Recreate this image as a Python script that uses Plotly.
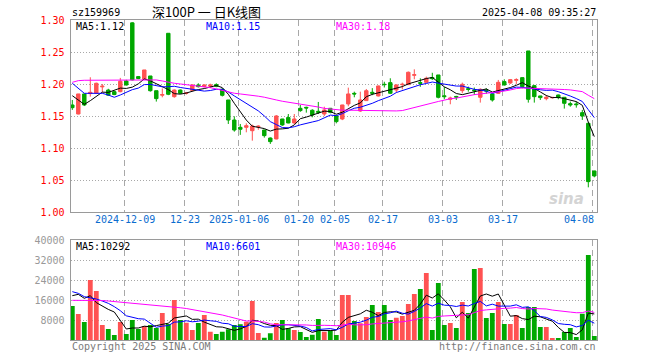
import plotly.graph_objects as go
import pandas as pd

# ---------------- data ----------------
dates = [
    "2024-11-26", "2024-11-27", "2024-11-28", "2024-11-29",
    "2024-12-02", "2024-12-03", "2024-12-04", "2024-12-05", "2024-12-06",
    "2024-12-09", "2024-12-10", "2024-12-11", "2024-12-12", "2024-12-13",
    "2024-12-16", "2024-12-17", "2024-12-18", "2024-12-19", "2024-12-20",
    "2024-12-23", "2024-12-24", "2024-12-25", "2024-12-26", "2024-12-27",
    "2024-12-30", "2024-12-31",
    "2025-01-02", "2025-01-03",
    "2025-01-06", "2025-01-07", "2025-01-08", "2025-01-09", "2025-01-10",
    "2025-01-13", "2025-01-14", "2025-01-15", "2025-01-16", "2025-01-17",
    "2025-01-20", "2025-01-21", "2025-01-22", "2025-01-23", "2025-01-24",
    "2025-01-27",
    "2025-02-05", "2025-02-06", "2025-02-07",
    "2025-02-10", "2025-02-11", "2025-02-12", "2025-02-13", "2025-02-14",
    "2025-02-17", "2025-02-18", "2025-02-19", "2025-02-20", "2025-02-21",
    "2025-02-24", "2025-02-25", "2025-02-26", "2025-02-27", "2025-02-28",
    "2025-03-03", "2025-03-04", "2025-03-05", "2025-03-06", "2025-03-07",
    "2025-03-10", "2025-03-11", "2025-03-12", "2025-03-13", "2025-03-14",
    "2025-03-17", "2025-03-18", "2025-03-19", "2025-03-20", "2025-03-21",
    "2025-03-24", "2025-03-25", "2025-03-26", "2025-03-27", "2025-03-28",
    "2025-03-31",
    "2025-04-01", "2025-04-02", "2025-04-03",
    "2025-04-07", "2025-04-08",
]

opens = [
    1.1677, 1.1536, 1.1849, 1.1855, 1.1860, 1.1960, 1.1910, 1.1885, 1.1885, 1.2050,
    1.2960, 1.2120, 1.2078, 1.2130, 1.1900, 1.1830, 1.2797, 1.1807, 1.1910, 1.1860,
    1.1905, 1.1989, 1.1965, 1.1970, 1.1995, 1.1922, 1.1755, 1.1442, 1.1328, 1.1328,
    1.1275, 1.1335, 1.1286, 1.1161, 1.1146, 1.1458, 1.1480, 1.1396, 1.1625, 1.1640,
    1.1594, 1.1578, 1.1536, 1.1625, 1.1505, 1.1458, 1.1693, 1.1859, 1.1583, 1.1745,
    1.1875, 1.1818, 1.2000, 1.2026, 1.1911, 1.1995, 1.1995, 1.2141, 1.2026, 1.2031,
    1.2104, 1.2146, 1.1820, 1.1766, 1.1810, 1.1901, 1.1932, 1.1911, 1.1797, 1.1910,
    1.1849, 1.1859, 1.2042, 1.2021, 1.2062, 1.2104, 1.2521, 1.1979, 1.1818, 1.1776,
    1.1790, 1.1833, 1.1797, 1.1698, 1.1693, 1.1557, 1.1391, 1.0646,
]
highs = [
    1.1755, 1.1850, 1.1850, 1.2110, 1.2026, 1.2005, 1.1930, 1.1900, 1.2100, 1.2070,
    1.2970, 1.2130, 1.2224, 1.2130, 1.1900, 1.1935, 1.2800, 1.1920, 1.1920, 1.1880,
    1.2000, 1.2016, 1.2000, 1.2010, 1.2016, 1.1940, 1.1755, 1.1500, 1.1380, 1.1390,
    1.1370, 1.1360, 1.1290, 1.1170, 1.1520, 1.1460, 1.1536, 1.1536, 1.1677, 1.1650,
    1.1610, 1.1724, 1.1650, 1.1630, 1.1510, 1.1680, 1.1948, 1.1885, 1.1885, 1.1927,
    1.1940, 1.1980, 1.2040, 1.2094, 1.2000, 1.2026, 1.2200, 1.2234, 1.2094, 1.2120,
    1.2180, 1.2146, 1.1960, 1.1807, 1.1820, 1.2026, 1.1964, 1.1950, 1.1937, 1.1937,
    1.1850, 1.2068, 1.2078, 1.2083, 1.2094, 1.2110, 1.2521, 1.1990, 1.1820, 1.1833,
    1.1800, 1.1840, 1.1800, 1.1730, 1.1730, 1.1600, 1.1400, 1.0650,
]
lows = [
    1.1600, 1.1530, 1.1660, 1.1807, 1.1850, 1.1870, 1.1820, 1.1830, 1.1875, 1.1980,
    1.2060, 1.2080, 1.2070, 1.1885, 1.1730, 1.1797, 1.1830, 1.1790, 1.1850, 1.1840,
    1.1900, 1.1950, 1.1950, 1.1940, 1.1955, 1.1810, 1.1380, 1.1260, 1.1210, 1.1250,
    1.1119, 1.1290, 1.1167, 1.1068, 1.1140, 1.1350, 1.1390, 1.1380, 1.1570, 1.1557,
    1.1484, 1.1536, 1.1505, 1.1547, 1.1390, 1.1440, 1.1656, 1.1797, 1.1570, 1.1740,
    1.1830, 1.1810, 1.1950, 1.1850, 1.1870, 1.1920, 1.1990, 1.2078, 1.1960, 1.2026,
    1.2068, 1.1780, 1.1766, 1.1688, 1.1755, 1.1860, 1.1885, 1.1833, 1.1714, 1.1850,
    1.1730, 1.1850, 1.1980, 1.2005, 1.2005, 1.1937, 1.1714, 1.1714, 1.1755, 1.1750,
    1.1780, 1.1766, 1.1620, 1.1650, 1.1635, 1.1443, 1.0390, 1.0547,
]
closes = [
    1.1635, 1.1849, 1.1677, 1.1875, 1.2016, 1.1970, 1.1830, 1.1840, 1.2047, 1.1990,
    1.2070, 1.2090, 1.2224, 1.1900, 1.1776, 1.1840, 1.1844, 1.1910, 1.1860, 1.1865,
    1.1990, 1.1963, 1.1990, 1.1990, 1.1970, 1.1828, 1.1442, 1.1286, 1.1297, 1.1353,
    1.1348, 1.1345, 1.1198, 1.1104, 1.1505, 1.1365, 1.1396, 1.1458, 1.1589, 1.1630,
    1.1521, 1.1563, 1.1599, 1.1562, 1.1417, 1.1677, 1.1849, 1.1849, 1.1755, 1.1900,
    1.1860, 1.1974, 1.1995, 1.1860, 1.1990, 1.2000, 1.2188, 1.2150, 1.2016, 1.2094,
    1.2089, 1.1797, 1.1807, 1.1786, 1.1800, 1.2000, 1.1920, 1.1900, 1.1922, 1.1896,
    1.1755, 1.2031, 1.1990, 1.2073, 1.2073, 1.1964, 1.1766, 1.1807, 1.1792, 1.1797,
    1.1795, 1.1792, 1.1703, 1.1677, 1.1682, 1.1505, 1.0479, 1.0568,
]
volumes = [
    13600, 10400, 7200, 24000, 19600, 6000, 4400, 2000, 7200, 2400,
    8000, 4400, 5600, 6000, 4800, 10800, 6400, 16000, 8000, 6900,
    4000, 6800, 10000, 3300, 2400, 3300, 4300, 6000, 6300, 7300,
    15600, 2800, 900, 2700, 6800, 8000, 4700, 4000, 3200, 1200,
    2100, 8400, 3300, 3900, 2000, 18000, 18000, 7600, 6700, 9200,
    14000, 11200, 14000, 8000, 8900, 9600, 14400, 18400, 20400, 26800,
    4000, 22800, 6000, 6800, 4800, 15200, 10800, 28400, 28800, 8800,
    10800, 15200, 6400, 6400, 10000, 4800, 13200, 13200, 5200, 5200,
    800, 800, 3200, 4800, 1200, 10500, 34000, 1600,
]

ma5_head = [1.1822, 1.1755, 1.1687, 1.1744]
ma10_head = [1.2016, 1.1937, 1.1859, 1.1859, 1.1859, 1.1859, 1.1833, 1.1797, 1.1833]
ma30_head = [1.2031, 1.2057, 1.2063, 1.2063, 1.2063, 1.2063, 1.2063, 1.2063, 1.2063,
             1.2068, 1.2068, 1.2068, 1.2073, 1.2073, 1.2068, 1.2052, 1.2031, 1.2016,
             1.2005, 1.1995, 1.1984, 1.1969, 1.1958, 1.1948, 1.1927, 1.1901, 1.1880,
             1.1860, 1.1849]
vma5_head = [17733, 18267, 16667, 17733]
vma10_head = [19333, 18667, 17333, 16933, 16400, 15600, 14667, 13333, 11733]
vma30_head = [15867, 15900, 16000, 16000, 15900, 15800, 15600, 15400, 15200, 15000,
              14800, 14600, 14400, 14200, 14000, 13800, 13500, 13200, 12900, 12600,
              12200, 11800, 11400, 11000, 10500, 10000, 9400, 8800, 8200]

tick_dates = ["2024-12-09", "2024-12-23", "2025-01-06", "2025-01-20", "2025-02-05",
              "2025-02-17", "2025-03-03", "2025-03-17", "2025-04-08"]
tick_labels = ["2024-12-09", "12-23", "2025-01-06", "01-20", "02-05",
               "02-17", "03-03", "03-17", "04-08"]
price_ticks = [1.00, 1.05, 1.10, 1.15, 1.20, 1.25, 1.30]
price_tick_labels = ["1.00", "1.05", "1.10", "1.15", "1.20", "1.25", "1.30"]
vol_ticks = [8000, 16000, 24000, 32000, 40000]
vol_tick_labels = ["8000", "16000", "24000", "32000", "40000"]
price_legend = ["MA5:1.12", "MA10:1.15", "MA30:1.18"]
vol_legend = ["MA5:10292", "MA10:6601", "MA30:10946"]
code = "sz159969"
title = "深100P 一 日K线图"
stamp = "2025-04-08 09:35:27"

# ---------------- styling ----------------
W, H = 660, 360
RED = "#ff5252"
GREEN = "#00a800"
MA_COLORS = ["#000000", "#0000ff", "#ff00ff"]
GRID = "#a8a8a8"
BORDER = "#9a9a9a"
MONO = "DejaVu Sans Mono"


def px(x):
    return x / W


def py(y):
    return 1 - y / H


def moving(vals, n, head):
    s = pd.Series(vals, dtype=float).rolling(n).mean().tolist()
    return list(head) + s[len(head):]


idx = list(range(len(dates)))
up = [c >= o for o, c in zip(opens, closes)]
bar_colors = [RED if u else GREEN for u in up]

x_lo, x_hi = -0.3, 87.45
tick_x = [dates.index(d) - 0.3 for d in tick_dates]

fig = go.Figure()

fig.add_trace(go.Candlestick(
    x=idx, open=opens, high=highs, low=lows, close=closes,
    increasing=dict(line=dict(color=RED, width=1), fillcolor=RED),
    decreasing=dict(line=dict(color=GREEN, width=1), fillcolor=GREEN),
    whiskerwidth=0, xaxis="x", yaxis="y", showlegend=False,
))
for n, head, col in zip([5, 10, 30], [ma5_head, ma10_head, ma30_head], MA_COLORS):
    fig.add_trace(go.Scatter(x=idx, y=moving(closes, n, head), mode="lines",
                             line=dict(color=col, width=1), xaxis="x", yaxis="y",
                             showlegend=False))

fig.add_trace(go.Bar(x=idx, y=volumes, marker=dict(color=bar_colors, line=dict(width=0)),
                     width=0.8, xaxis="x2", yaxis="y2", showlegend=False))
for n, head, col in zip([5, 10, 30], [vma5_head, vma10_head, vma30_head], MA_COLORS):
    fig.add_trace(go.Scatter(x=idx, y=moving(volumes, n, head), mode="lines",
                             line=dict(color=col, width=1), xaxis="x2", yaxis="y2",
                             showlegend=False))

xdom = [px(70.5), px(597)]
common_x = dict(domain=xdom, range=[x_lo, x_hi], tickvals=tick_x, showticklabels=False,
                showgrid=True, gridcolor=GRID, griddash="6px,4px", gridwidth=1,
                zeroline=False, showline=True, mirror=True, linecolor=BORDER, linewidth=1,
                ticks="", fixedrange=True, automargin=False)

fig.update_layout(
    width=W, height=H, margin=dict(l=0, r=0, t=0, b=0, pad=0), autosize=False,
    paper_bgcolor="white", plot_bgcolor="white",
    xaxis=dict(**common_x, anchor="y", rangeslider=dict(visible=False)),
    xaxis2=dict(**common_x, anchor="y2"),
    yaxis=dict(domain=[py(212.3), py(20.3)], range=[1.0, 1.3], tickvals=price_ticks,
               ticktext=price_tick_labels, tickfont=dict(family=MONO, size=10, color="#ff0000"),
               showgrid=True, gridcolor=GRID, griddash="1px,2px", zeroline=False,
               showline=True, mirror=True, linecolor=BORDER, ticks="", anchor="x",
               ticklabelstandoff=3, automargin=False, fixedrange=True),
    yaxis2=dict(domain=[py(340), py(240)], range=[0, 40000], tickvals=vol_ticks,
                ticktext=vol_tick_labels, tickfont=dict(family=MONO, size=10, color="#999999"),
                showgrid=True, gridcolor=GRID, griddash="1px,2px", zeroline=False,
                showline=True, mirror=True, linecolor=BORDER, ticks="", anchor="x2",
                ticklabelstandoff=3, automargin=False, fixedrange=True),
    bargap=0.2,
    boxgap=0.18,
    showlegend=False,
)

ann = []


def txt(text, x, y, color="#000000", size=10, family=MONO, xanchor="left", xref="paper"):
    ann.append(dict(text=text, x=x, y=py(y), xref=xref, yref="paper", showarrow=False,
                    xanchor=xanchor, yanchor="middle",
                    font=dict(family=family, size=size, color=color)))


txt(code, px(70), 13)
txt(title, px(150), 12, size=13, family="Noto Sans CJK SC")
txt(stamp, px(597.5), 13, xanchor="right")

for lab, xpos, col in zip(price_legend, [74, 204, 334], MA_COLORS):
    txt(lab, px(xpos), 26.5, color=col)
for lab, xpos, col in zip(vol_legend, [74, 204, 334], MA_COLORS):
    txt(lab, px(xpos), 246, color=col)

for i, (tx, lab) in enumerate(zip(tick_x, tick_labels)):
    last = i == len(tick_x) - 1
    txt(lab, px(595.5) if last else tx, 219.5, color="#0a6ccf",
        xanchor="right" if last else "center", xref="paper" if last else "x")

txt("Copyright 2025 SINA.COM", px(69.5), 346, color="#7a7a7a")
txt("http://finance.sina.com.cn", px(597.5), 346, color="#7a7a7a", xanchor="right")

ann.append(dict(text="<b><i>sina</i></b>", x=px(586), y=py(199), xref="paper", yref="paper",
                showarrow=False, font=dict(family="DejaVu Sans", size=15, color="#d4d4d4")))

fig.update_layout(annotations=ann)
fig.write_html(
    "out.html",
    config={"displayModeBar": False, "staticPlot": True},
    post_script="document.body.style.margin='0';document.body.style.overflow='hidden';",
)
